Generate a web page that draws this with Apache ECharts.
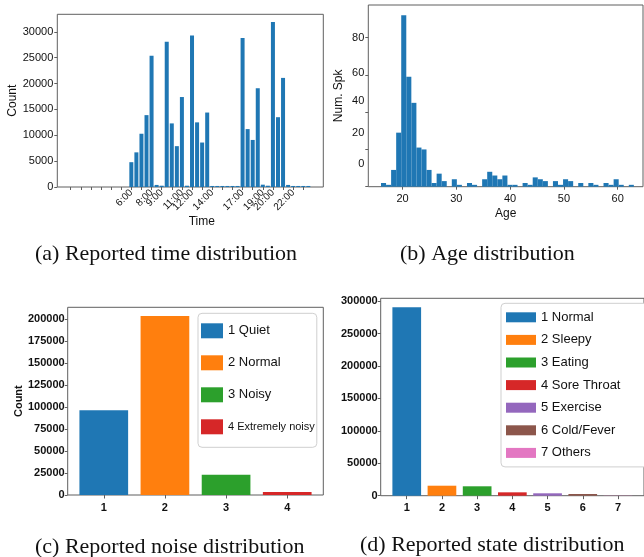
<!DOCTYPE html>
<html><head><meta charset="utf-8">
<script src="https://cdn.jsdelivr.net/npm/echarts@6/dist/echarts.min.js"></script>
<style>html,body{margin:0;padding:0;background:#fff}#c{width:644px;height:557px}</style>
</head><body><div id="c"></div>
<script>
// ---- (a) Reported time distribution (half-hour bins) ----
const timeBins = ['6:00','6:30','7:00','7:30','8:00','8:30','9:00','9:30','10:00','10:30','11:00','11:30',
  '12:00','12:30','13:00','13:30','14:00','14:30','15:00','15:30','16:00','16:30','17:00','17:30',
  '18:00','18:30','19:00','19:30','20:00','20:30','21:00','21:30','22:00','22:30','23:00','23:30'];
const timeCounts = [4800,6700,10300,13900,25400,400,250,28100,12300,7900,17400,250,
  29300,12500,8600,14400,200,200,200,200,200,200,28800,11200,
  9100,19100,450,250,31900,13500,21100,400,200,200,200,200];
const timeTickHours = [0,1,2,3,4,5,6,7,8,9,10,11,12,13,14,15,16,17,18,19,20,21,22,23];
const timeTickLabels = ['6:00','8:00','9:00','11:00','12:00','14:00','17:00','19:00','20:00','22:00'];
const timeYTicks = [0,5000,10000,15000,20000,25000,30000];

// ---- (b) Age distribution (histogram, 50 bins over 16..63) ----
const ageRange = [16, 63];
const ageCounts = [2,1,9,29,92,59,45,21,20,9,2,7,3,0,4,1,0,2,1,0,
  4,8,6,4,6,1,1,0,2,1,5,4,3,0,3,1,4,3,0,2,
  0,2,1,0,2,1,4,1,0,1];
const ageXTicks = [20,30,40,50,60];
const ageYTicks = [0,20,40,60,80];

// ---- (c) Reported noise distribution ----
const noiseLevels = [1,2,3,4];
const noiseNames = ['1 Quiet','2 Normal','3 Noisy','4 Extremely noisy'];
const noiseCounts = [96400,203800,23100,3400];
const noiseYTicks = [0,25000,50000,75000,100000,125000,150000,175000,200000];

// ---- (d) Reported state distribution ----
const stateLevels = [1,2,3,4,5,6,7];
const stateNames = ['1 Normal','2 Sleepy','3 Eating','4 Sore Throat','5 Exercise','6 Cold/Fever','7 Others'];
const stateCounts = [290300,15400,14500,5200,3700,2600,300];
const stateYTicks = [0,50000,100000,150000,200000,250000,300000];

const palette = ['#1f77b4','#ff7f0e','#2ca02c','#d62728','#9467bd','#8c564b','#e377c2'];
const SANS = 'Liberation Sans';
const TXT = '#111';
const FRAME = '#5f5f5f';

function hourOf(s){ const p = s.split(':').map(Number); return p[0] + p[1]/60; }
const plain = v => String(v);

const binW = (ageRange[1] - ageRange[0]) / ageCounts.length;
const ageData = ageCounts.map((c, i) => [ageRange[0] + i*binW, ageRange[0] + (i+1)*binW, c]);

const chart = echarts.init(document.getElementById('c'), null, {renderer: 'canvas'});

function tick(vals, len){ return {show:true, customValues: vals, length: len, lineStyle:{color: FRAME, width:1}}; }
const noLine = {show:false, onZero:false};

const ageYShift = {0:45, 20:32, 40:22, 60:3, 80:0};
const ageYRich = {};
ageYTicks.forEach(v => { ageYRich['t'+v] = {padding:[0,0,ageYShift[v],0], fontSize:11, color:TXT, fontFamily:SANS}; });

const series = [];
series.push({
  type:'bar', xAxisIndex:0, yAxisIndex:0, barWidth:4,
  itemStyle:{color: palette[0]},
  data: timeBins.map((t, i) => [hourOf(t), timeCounts[i]])
});
series.push({
  type:'custom', xAxisIndex:1, yAxisIndex:1,
  encode:{x:[0,1], y:2},
  renderItem: function(params, api){
    const p0 = api.coord([api.value(0), api.value(2)]);
    const p1 = api.coord([api.value(1), 0]);
    return {type:'rect', shape:{x:p0[0], y:p0[1], width:p1[0]-p0[0], height:p1[1]-p0[1]}, style:{fill: palette[0]}};
  },
  data: ageData
});
noiseLevels.forEach((lv, i) => series.push({
  type:'bar', name: noiseNames[i], xAxisIndex:2, yAxisIndex:2, barWidth:48.7, barGap:'-100%',
  itemStyle:{color: palette[i]}, data:[[lv, noiseCounts[i]]]
}));
stateLevels.forEach((lv, i) => series.push({
  type:'bar', name: stateNames[i], xAxisIndex:3, yAxisIndex:3, barWidth:28.7, barGap:'-100%',
  itemStyle:{color: palette[i]}, data:[[lv, stateCounts[i]]]
}));

const gridBox = {show:true, borderColor: FRAME, borderWidth:1, backgroundColor:'transparent'};
const capStyle = {fontFamily:'Liberation Serif', fontSize:22, fontWeight:'normal', color:TXT};

const option = {
  animation:false,
  textStyle:{fontFamily:SANS},
  title:[
    {text:'(a) Reported time distribution', left:35, top:243, padding:0, textStyle:capStyle},
    {text:'(b) Age distribution', left:400, top:243, padding:0, textStyle:capStyle},
    {text:'(c) Reported noise distribution', left:35, top:536, padding:0, textStyle:capStyle},
    {text:'(d) Reported state distribution', left:360, top:534.5, padding:0, textStyle:capStyle}
  ],
  grid:[
    Object.assign({left:57.3, top:14.3, width:266, height:172.7}, gridBox),
    Object.assign({left:368.3, top:5, width:274.7, height:181.7}, gridBox),
    Object.assign({left:67.7, top:307.3, width:255.6, height:187.7}, gridBox),
    Object.assign({left:380.7, top:298.3, width:271, height:197.4}, gridBox)
  ],
  xAxis:[
    {gridIndex:0, type:'value', min:-1.32, max:24.98, axisLine:noLine, splitLine:{show:false},
     axisTick: tick(timeTickHours, 3),
     axisLabel:{customValues: timeTickLabels.map(hourOf), rotate:45, fontSize:10, margin:4, color:TXT,
       formatter: v => timeTickLabels.find(l => Math.abs(hourOf(l) - v) < 1e-6) || ''},
     name:'Time', nameLocation:'middle', nameGap:27, nameTextStyle:{fontSize:12, color:TXT, padding:[0,0,0,23]}},
    {gridIndex:1, type:'value', min:13.64, max:64.7, axisLine:noLine, splitLine:{show:false},
     axisTick: tick(ageXTicks, 3),
     axisLabel:{customValues: ageXTicks, fontSize:11, margin:7, color:TXT, formatter: plain},
     name:'Age', nameLocation:'middle', nameGap:21, nameTextStyle:{fontSize:12, color:TXT}},
    {gridIndex:2, type:'value', min:0.41, max:4.59, axisLine:noLine, splitLine:{show:false},
     axisTick: tick(noiseLevels, 3.5),
     axisLabel:{customValues: noiseLevels, fontSize:11, fontWeight:'bold', margin:7, color:TXT, formatter: plain}},
    {gridIndex:3, type:'value', min:0.26, max:7.74, axisLine:noLine, splitLine:{show:false},
     axisTick: tick(stateLevels, 3.5),
     axisLabel:{customValues: stateLevels, fontSize:11, fontWeight:'bold', margin:7, color:TXT, formatter: plain}}
  ],
  yAxis:[
    {gridIndex:0, type:'value', min:0, max:33400, axisLine:noLine, splitLine:{show:false},
     axisTick: tick(timeYTicks, 3),
     axisLabel:{customValues: timeYTicks, fontSize:11, margin:4, color:TXT, formatter: plain},
     name:'Count', nameLocation:'middle', nameGap:39, nameTextStyle:{fontSize:12, color:TXT}},
    {gridIndex:1, type:'value', min:0, max:97.5, axisLine:noLine, splitLine:{show:false},
     axisTick: tick(ageYTicks, 3),
     axisLabel:{customValues: ageYTicks, fontSize:11, margin:4, color:TXT,
       formatter: v => '{t' + v + '|' + v + '}', rich: ageYRich},
     name:'Num. Spk', nameLocation:'middle', nameGap:24, nameTextStyle:{fontSize:12, color:TXT}},
    {gridIndex:2, type:'value', min:0, max:213700, axisLine:noLine, splitLine:{show:false},
     axisTick: tick(noiseYTicks, 3),
     axisLabel:{customValues: noiseYTicks, fontSize:11, fontWeight:'bold', margin:3, color:TXT, formatter: plain},
     name:'Count', nameLocation:'middle', nameGap:38, nameTextStyle:{fontSize:11, fontWeight:'bold', color:TXT}},
    {gridIndex:3, type:'value', min:0, max:304200, axisLine:noLine, splitLine:{show:false},
     axisTick: tick(stateYTicks, 3),
     axisLabel:{customValues: stateYTicks, fontSize:11, fontWeight:'bold', margin:3, color:TXT, formatter: plain}}
  ],
  legend:[
    {data: noiseNames, orient:'vertical', left:198, top:313.3, icon:'rect', itemWidth:22, itemHeight:15, itemGap:17,
     padding:[10,2,13,3], borderColor:'#cfcfcf', borderWidth:1, borderRadius:4, backgroundColor:'#fff',
     selectedMode:false,
     formatter: n => n === '4 Extremely noisy' ? '{s|' + n + '}' : n,
     textStyle:{fontSize:13, color:TXT, fontFamily:SANS, rich:{s:{fontSize:11, color:TXT, fontFamily:SANS}}}},
    {data: stateNames, orient:'vertical', left:501, top:303.3, icon:'rect', itemWidth:30, itemHeight:10, itemGap:9.6,
     padding:[7.5,45,7.5,5], borderColor:'#cfcfcf', borderWidth:1, borderRadius:4, backgroundColor:'#fff',
     selectedMode:false,
     textStyle:{fontSize:13, color:TXT, fontFamily:SANS}}
  ],
  series: series
};
chart.setOption(option);
</script>
</body></html>
